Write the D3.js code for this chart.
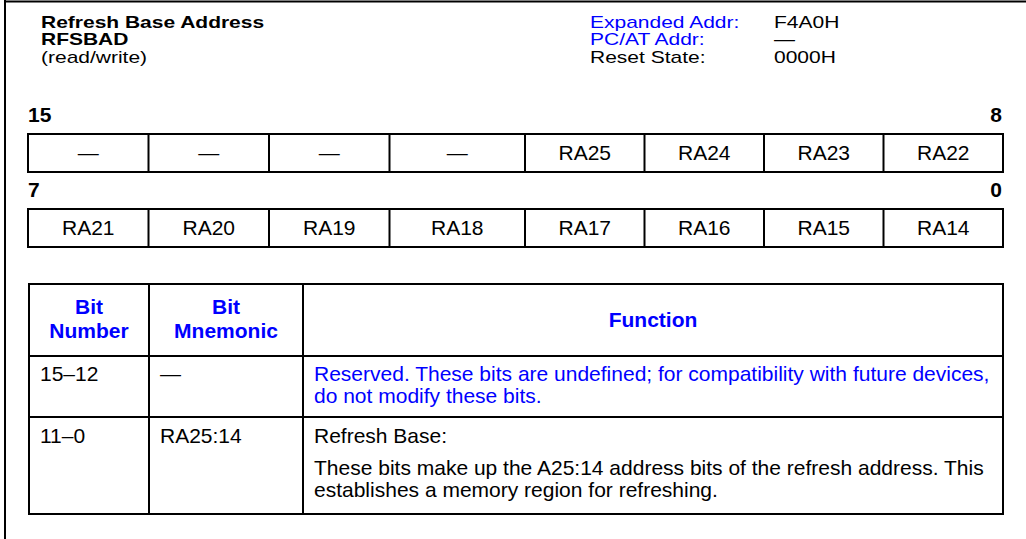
<!DOCTYPE html>
<html>
<head>
<meta charset="utf-8">
<script src="https://cdn.jsdelivr.net/npm/d3@7"></script>
<style>
  html, body { margin: 0; padding: 0; background: #fff; }
  svg { display: block; }
  text { font-family: "Liberation Sans", Arial, Helvetica, sans-serif; }
</style>
</head>
<body>
<svg id="chart" width="1026" height="539"></svg>
<script>
// ---- data ----
const titleLines = ["Refresh Base Address", "RFSBAD", "(read/write)"];
const infoLabels = ["Expanded Addr:", "PC/AT Addr:", "Reset State:"];
const infoValues = ["F4A0H", "\u2014", "0000H"];
const highBits = ["\u2014", "\u2014", "\u2014", "\u2014", "RA25", "RA24", "RA23", "RA22"];
const lowBits = ["RA21", "RA20", "RA19", "RA18", "RA17", "RA16", "RA15", "RA14"];
const rowEdgeLabels = [["15", "8"], ["7", "0"]];
const headerCols = [["Bit", "Number"], ["Bit", "Mnemonic"], ["Function"]];
const bitNumbers = ["15\u201312", "11\u20130"];
const bitMnemonics = ["\u2014", "RA25:14"];
const bitFunctions = [
  [{t: "Reserved. These bits are undefined; for compatibility with future devices,", blue: true},
   {t: "do not modify these bits.", blue: true}],
  [{t: "Refresh Base:", blue: false},
   {t: "These bits make up the A25:14 address bits of the refresh address. This", blue: false, gap: true},
   {t: "establishes a memory region for refreshing.", blue: false}]
];

const BLUE = "#0000ff";
const FS = 21;
const HEAD_SY = 0.8;
const svg = d3.select("#chart");

// frame
svg.append("line").attr("x1", 4).attr("x2", 1026).attr("y1", 1.5).attr("y2", 1.5)
  .attr("stroke", "#000").attr("stroke-width", 2);
svg.append("line").attr("x1", 5).attr("x2", 5).attr("y1", 0).attr("y2", 539)
  .attr("stroke", "#000").attr("stroke-width", 2);

// header text (slightly compressed vertically, as in the reference)
const lineY = d3.scaleLinear().domain([0, 1]).range([27.5, 45.2]);
const headText = (cls, data, x, weightFn, fillFn) =>
  svg.selectAll("text." + cls).data(data).join("text")
    .attr("class", cls)
    .attr("transform", (d, i) => `translate(${x},${lineY(i)}) scale(1,${HEAD_SY})`)
    .attr("font-size", FS)
    .attr("font-weight", weightFn)
    .attr("fill", fillFn)
    .text(d => d);
headText("title", titleLines, 41, (d, i) => i < 2 ? "bold" : "normal", () => "#000");
headText("infol", infoLabels, 590, () => "normal", (d, i) => i < 2 ? BLUE : "#000");
headText("infov", infoValues, 774, () => "normal", () => "#000");

// register rows: two groups of four cells
const groupX = i => i < 4
  ? d3.scaleLinear().domain([0, 4]).range([28, 510])(i)
  : d3.scaleLinear().domain([4, 8]).range([525, 1003])(i);
const rowTop = [134, 209];
const rowH = 38;

[highBits, lowBits].forEach((bits, r) => {
  const g = svg.append("g");
  const y0 = rowTop[r];
  g.append("text").attr("x", 28).attr("y", y0 - 12).attr("font-size", FS).attr("font-weight", "bold")
    .text(rowEdgeLabels[r][0]);
  g.append("text").attr("x", 1002).attr("y", y0 - 12).attr("font-size", FS).attr("font-weight", "bold")
    .attr("text-anchor", "end").text(rowEdgeLabels[r][1]);
  [[0, 4], [4, 8]].forEach(([a, b]) => {
    g.append("rect").attr("x", groupX(a)).attr("y", y0)
      .attr("width", groupX(b) - groupX(a)).attr("height", rowH)
      .attr("fill", "none").attr("stroke", "#000").attr("stroke-width", 2);
    for (let k = a + 1; k < b; k++) {
      g.append("line").attr("x1", groupX(k)).attr("x2", groupX(k))
        .attr("y1", y0).attr("y2", y0 + rowH).attr("stroke", "#000").attr("stroke-width", 2);
    }
  });
  g.selectAll("text.cell").data(bits).join("text").attr("class", "cell")
    .attr("x", (d, i) => (groupX(i) + groupX(i + 1)) / 2)
    .attr("y", y0 + 26)
    .attr("text-anchor", "middle").attr("font-size", FS)
    .text(d => d);
});

// bit table
const colEdges = [29, 149, 303, 1003];
const rowEdges = [284, 356, 417, 514];
const tg = svg.append("g");
tg.append("rect").attr("x", colEdges[0]).attr("y", rowEdges[0])
  .attr("width", colEdges[3] - colEdges[0]).attr("height", rowEdges[3] - rowEdges[0])
  .attr("fill", "none").attr("stroke", "#000").attr("stroke-width", 2);
[1, 2].forEach(c => tg.append("line").attr("x1", colEdges[c]).attr("x2", colEdges[c])
  .attr("y1", rowEdges[0]).attr("y2", rowEdges[3]).attr("stroke", "#000").attr("stroke-width", 2));
[1, 2].forEach(r => tg.append("line").attr("x1", colEdges[0]).attr("x2", colEdges[3])
  .attr("y1", rowEdges[r]).attr("y2", rowEdges[r]).attr("stroke", "#000").attr("stroke-width", 2));

headerCols.forEach((lines, c) => {
  const cx = (colEdges[c] + colEdges[c + 1]) / 2;
  lines.forEach((t, k) => {
    const y = lines.length === 1 ? 327 : 314 + k * 24;
    tg.append("text").attr("x", cx).attr("y", y).attr("text-anchor", "middle")
      .attr("font-size", FS).attr("font-weight", "bold").attr("fill", BLUE).text(t);
  });
});

const rowBase = [381, 443];
bitNumbers.forEach((t, r) => {
  tg.append("text").attr("x", 40).attr("y", rowBase[r]).attr("font-size", FS).text(t);
  tg.append("text").attr("x", 160).attr("y", rowBase[r]).attr("font-size", FS).text(bitMnemonics[r]);
  let y = rowBase[r];
  bitFunctions[r].forEach((ln, k) => {
    if (k > 0) y += ln.gap ? 32 : 22;
    tg.append("text").attr("x", 314).attr("y", y).attr("font-size", FS)
      .attr("fill", ln.blue ? BLUE : "#000").text(ln.t);
  });
});
</script>
</body>
</html>
